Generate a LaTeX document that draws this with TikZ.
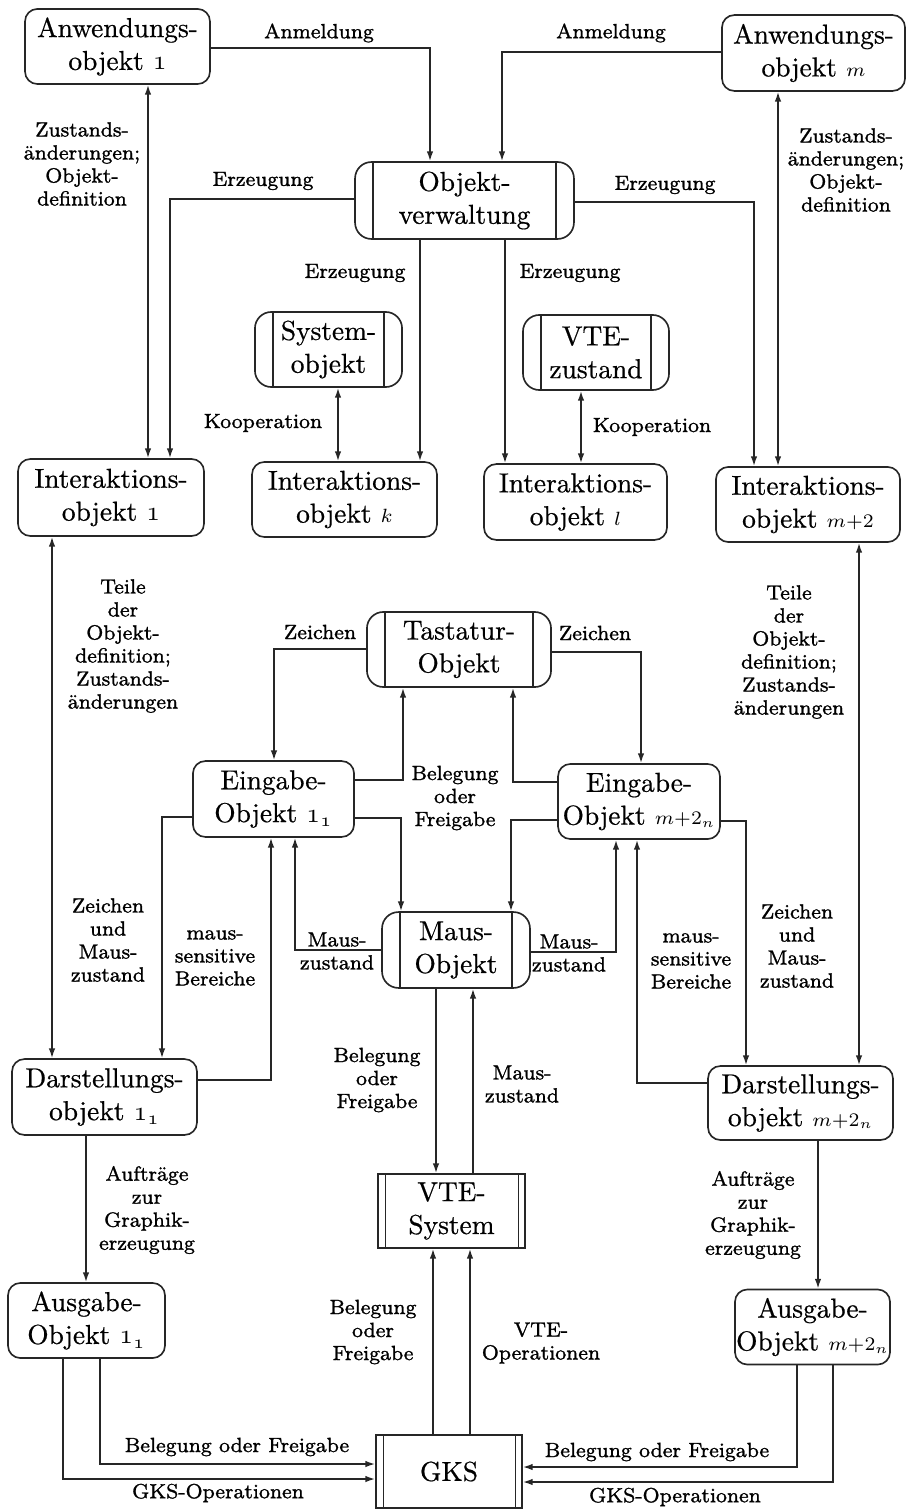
\documentclass[tikz,border=0pt]{standalone}
\usepackage{fontspec}
\usetikzlibrary{arrows.meta}
\newfontfamily\boxfont[FakeBold=0.6]{lmroman10-regular.otf}
\newfontfamily\labfont[FakeBold=1.2]{lmroman8-regular.otf}
\newcommand\osone{$\mathnormal{1}$}
\newcommand\osoneone{$\mathnormal{1}_{\mathnormal{1}}$}
\begin{document}
\begin{tikzpicture}[x=0.365pt,y=-0.365pt,
  conn/.style={line width=0.6pt, draw=black!85},
  arr/.style={conn, -{Latex[length=3.6pt,width=2.4pt]}},
  darr/.style={conn, {Latex[length=3.6pt,width=2.4pt]}-{Latex[length=3.6pt,width=2.4pt]}},
  objbox/.style={draw=black!85, line width=0.6pt, rounded corners=4.5pt, inner sep=0pt,
    align=center, font=\boxfont\fontsize{10}{12}\selectfont},
  procbox/.style={objbox, rounded corners=6pt,
    path picture={
      \draw[line width=0.6pt,black!85] ([xshift=6.6pt]path picture bounding box.north west) -- ([xshift=6.6pt]path picture bounding box.south west);
      \draw[line width=0.6pt,black!85] ([xshift=-6.6pt]path picture bounding box.north east) -- ([xshift=-6.6pt]path picture bounding box.south east);}},
  sysbox/.style={objbox, sharp corners,
    path picture={
      \draw[line width=0.6pt,black!85] ([xshift=2.7pt]path picture bounding box.north west) -- ([xshift=2.7pt]path picture bounding box.south west);
      \draw[line width=0.6pt,black!85] ([xshift=-2.4pt]path picture bounding box.north east) -- ([xshift=-2.4pt]path picture bounding box.south east);}},
  lab/.style={align=center, inner sep=0pt, font=\labfont\fontsize{7.5}{8.4}\selectfont},
]
\useasboundingbox (0,0) rectangle (907,1511);

% ---------- objects ----------
\node[objbox, minimum width=67.5pt, minimum height=27.4pt] (an1) at (117.5,46.5) {Anwendungs-\\objekt \osone};
\node[objbox, minimum width=66.8pt, minimum height=27.7pt] (anm) at (813.5,53) {Anwendungs-\\objekt $\scriptstyle m$};
\node[procbox, minimum width=79.9pt, minimum height=28.1pt] (ov) at (464.5,200.5) {Objekt-\\verwaltung};
\node[procbox, minimum width=53.7pt, minimum height=27.4pt] (sys) at (328.5,349.5) {System-\\objekt};
\node[procbox, minimum width=53.3pt, minimum height=27.4pt] (vtez) at (596,352.5) {VTE-\\zustand};
\node[objbox, minimum width=67.9pt, minimum height=28.1pt] (io1) at (111,497.5) {Interaktions-\\objekt \osone};
\node[objbox, minimum width=67.5pt, minimum height=27.4pt] (iok) at (344.5,499.5) {Interaktions-\\objekt $\scriptstyle k$};
\node[objbox, minimum width=66.8pt, minimum height=27.7pt] (iol) at (575.5,502) {Interaktions-\\objekt $\scriptstyle l$};
\node[objbox, minimum width=67.2pt, minimum height=27.4pt] (iom) at (808,504.5) {Interaktions-\\objekt $\scriptstyle m+2$};
\node[procbox, minimum width=67.2pt, minimum height=27.4pt] (tast) at (459,649.5) {Tastatur-\\Objekt};
\node[objbox, minimum width=58.8pt, minimum height=27.7pt] (ein1) at (273.5,799) {Eingabe-\\Objekt \osoneone};
\node[objbox, minimum width=59.1pt, minimum height=27.4pt] (einm) at (639,801.5) {Eingabe-\\Objekt $\scriptstyle m+2_n$};
\node[procbox, minimum width=54pt, minimum height=27.7pt] (maus) at (456,950) {Maus-\\Objekt};
\node[objbox, minimum width=67.5pt, minimum height=27.7pt] (dar1) at (104.5,1097) {Darstellungs-\\objekt \osoneone};
\node[objbox, minimum width=67.5pt, minimum height=27pt] (darm) at (800.5,1103) {Darstellungs-\\objekt $\scriptstyle m+2_n$};
\node[sysbox, minimum width=53.7pt, minimum height=27pt] (vtes) at (451.5,1211) {VTE-\\System};
\node[objbox, minimum width=57.3pt, minimum height=27.4pt] (aus1) at (86.5,1320.5) {Ausgabe-\\Objekt \osoneone};
\node[objbox, minimum width=56.6pt, minimum height=27.4pt] (ausm) at (812.5,1327) {Ausgabe-\\Objekt $\scriptstyle m+2_n$};
\node[sysbox, minimum width=53.3pt, minimum height=26.6pt] (gks) at (449,1471.5) {GKS};

% ---------- connectors ----------
\draw[arr] (an1.east |- 0,48) -| (ov.north -| 430,0);
\draw[arr] (anm.west |- 0,52) -| (ov.north -| 502,0);
\draw[darr] (an1.south -| 148,0) -- (io1.north -| 148,0);
\draw[arr] (ov.west |- 0,199) -| (io1.north -| 170,0);
\draw[arr] (ov.east |- 0,202) -| (iom.north -| 754,0);
\draw[darr] (anm.south -| 778,0) -- (iom.north -| 778,0);
\draw[arr] (ov.south -| 420,0) -- (iok.north -| 420,0);
\draw[arr] (ov.south -| 505,0) -- (iol.north -| 505,0);
\draw[darr] (sys.south -| 338,0) -- (iok.north -| 338,0);
\draw[darr] (vtez.south -| 581,0) -- (iol.north -| 581,0);
\draw[darr] (io1.south -| 52,0) -- (dar1.north -| 52,0);
\draw[darr] (iom.south -| 859,0) -- (darm.north -| 859,0);
\draw[arr] (tast.west |- 0,649) -| (ein1.north -| 274,0);
\draw[arr] (tast.east |- 0,652) -| (einm.north -| 641,0);
\draw[arr] (ein1.east |- 0,780) -| (tast.south -| 403,0);
\draw[arr] (einm.west |- 0,782) -| (tast.south -| 513,0);
\draw[arr] (ein1.east |- 0,818) -| (maus.north -| 401,0);
\draw[arr] (einm.west |- 0,820) -| (maus.north -| 511,0);
\draw[arr] (ein1.west |- 0,817) -| (dar1.north -| 162,0);
\draw[arr] (dar1.east |- 0,1080) -| (ein1.south -| 271,0);
\draw[arr] (maus.west |- 0,950) -| (ein1.south -| 295,0);
\draw[arr] (maus.east |- 0,952) -| (einm.south -| 616,0);
\draw[arr] (darm.west |- 0,1083) -| (einm.south -| 637,0);
\draw[arr] (einm.east |- 0,821) -| (darm.north -| 746,0);
\draw[arr] (maus.south -| 436,0) -- (vtes.north -| 436,0);
\draw[arr] (vtes.north -| 473,0) -- (maus.south -| 473,0);
\draw[arr] (gks.north -| 433,0) -- (vtes.south -| 433,0);
\draw[arr] (gks.north -| 470,0) -- (vtes.south -| 470,0);
\draw[arr] (dar1.south -| 86,0) -- (aus1.north -| 86,0);
\draw[arr] (darm.south -| 818,0) -- (ausm.north -| 818,0);
\draw[arr] (aus1.south -| 100,0) |- (gks.west |- 0,1464);
\draw[arr] (aus1.south -| 63,0) |- (gks.west |- 0,1479);
\draw[arr] (ausm.south -| 797,0) |- (gks.east |- 0,1467);
\draw[arr] (ausm.south -| 833,0) |- (gks.east |- 0,1482);

% ---------- labels ----------
\node[lab] (t1) at (319,33) {Anmeldung};
\node[lab] (t2) at (611,33) {Anmeldung};
\node[lab] (t3) at (82,164) {Zustands-\\änderungen;\\Objekt-\\definition};
\node[lab] (t4) at (846,170) {Zustands-\\änderungen;\\Objekt-\\definition};
\node[lab] (t5) at (263,181) {Erzeugung};
\node[lab] (t6) at (665,185) {Erzeugung};
\node[lab] (t7) at (355,273) {Erzeugung};
\node[lab] (t8) at (570,273) {Erzeugung};
\node[lab] (t9) at (263,423) {Kooperation};
\node[lab] (t10) at (652,427) {Kooperation};
\node[lab] (t11) at (123,646) {Teile\\der\\Objekt-\\definition;\\Zustands-\\änderungen};
\node[lab] (t12) at (789,652) {Teile\\der\\Objekt-\\definition;\\Zustands-\\änderungen};
\node[lab] (t13) at (320,632) {Zeichen};
\node[lab] (t14) at (595,633) {Zeichen};
\node[lab] (t15) at (455,798) {Belegung\\oder\\Freigabe};
\node[lab] (t16) at (108,940) {Zeichen\\und\\Maus-\\zustand};
\node[lab] (t17) at (797,946) {Zeichen\\und\\Maus-\\zustand};
\node[lab] (t18) at (215,958) {maus-\\sensitive\\Bereiche};
\node[lab] (t19) at (691,961) {maus-\\sensitive\\Bereiche};
\node[lab] (t20) at (337,951) {Maus-\\zustand};
\node[lab] (t21) at (569,953) {Maus-\\zustand};
\node[lab] (t22) at (377,1080) {Belegung\\oder\\Freigabe};
\node[lab] (t23) at (522,1084) {Maus-\\zustand};
\node[lab] (t24) at (147,1210) {Aufträge\\zur\\Graphik-\\erzeugung};
\node[lab] (t25) at (753,1215) {Aufträge\\zur\\Graphik-\\erzeugung};
\node[lab] (t26) at (373,1332) {Belegung\\oder\\Freigabe};
\node[lab] (t27) at (541,1343) {VTE-\\Operationen};
\node[lab] (t28) at (237,1447) {Belegung oder Freigabe};
\node[lab] (t29) at (657,1452) {Belegung oder Freigabe};
\node[lab] (t30) at (218,1493) {GKS-Operationen};
\node[lab] (t31) at (675,1497) {GKS-Operationen};
\end{tikzpicture}
\end{document}
